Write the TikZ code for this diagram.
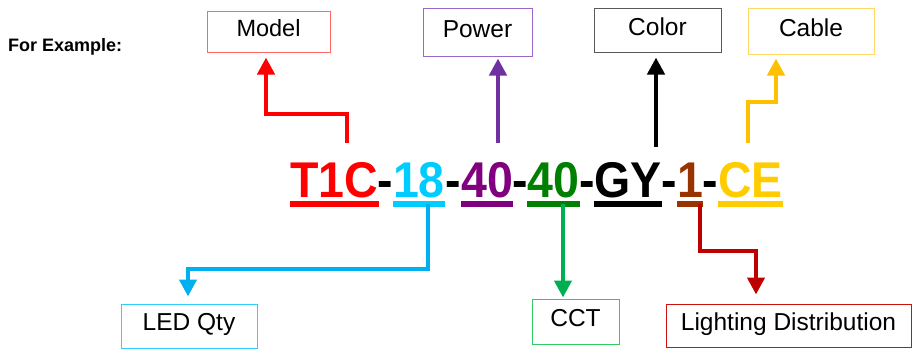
\documentclass[tikz,border=0pt]{standalone}
\usepackage{fontspec}
\setmainfont{Liberation Sans}
\usetikzlibrary{arrows.meta}
\definecolor{tRed}{HTML}{FF0000}
\definecolor{tCyan}{HTML}{00CCFF}
\definecolor{tPurple}{HTML}{800080}
\definecolor{tGreen}{HTML}{008000}
\definecolor{tBrown}{HTML}{993300}
\definecolor{tGold}{HTML}{FFCC00}
\definecolor{aRed}{HTML}{FF0000}
\definecolor{aPurple}{HTML}{7030A0}
\definecolor{aGold}{HTML}{FFC000}
\definecolor{aCyan}{HTML}{00B0F0}
\definecolor{aGreen}{HTML}{00B050}
\definecolor{aDark}{HTML}{C00000}
\definecolor{bModel}{HTML}{FF6666}
\definecolor{bPower}{HTML}{9966CC}
\definecolor{bColor}{HTML}{595959}
\definecolor{bCable}{HTML}{FFD966}
\definecolor{bLed}{HTML}{33CCFF}
\definecolor{bCct}{HTML}{33CC66}
\definecolor{bLd}{HTML}{CC1111}
\newcommand{\tallx}[1]{\scalebox{1}[1.08]{#1}}
\begin{document}
\begin{tikzpicture}[x=1pt,y=1pt,
  seg/.style={inner sep=0pt, anchor=base, font=\fontsize{46.5}{50}\selectfont\bfseries},
  uline/.style={line width=6pt},
  lbox/.style={draw, line width=1pt, inner sep=0pt, text height=17.5pt, text depth=8pt,
    font=\fontsize{24.5}{28}\selectfont, text=black},
  conn/.style={line width=4.5pt, -{Triangle[width=17pt,length=17pt]}}]
\useasboundingbox (0,0) rectangle (912,349);

% heading
\node[inner sep=0pt, anchor=base west, font=\fontsize{18}{20}\selectfont\bfseries] (hd) at (8,298) {For Example:};

% code segments
\node[seg, text=tRed]    (s1) at (334.5,152) {\tallx{T1C}};
\node[seg]               (d1) at (385.5,152) {\tallx{-}};
\node[seg, text=tCyan]   (s2) at (419,152)   {\tallx{18}};
\node[seg]               (d2) at (453,152)   {\tallx{-}};
\node[seg, text=tPurple] (s3) at (487,152)   {\tallx{40}};
\node[seg]               (d3) at (520,152)   {\tallx{-}};
\node[seg, text=tGreen]  (s4) at (553.5,152) {\tallx{40}};
\node[seg]               (d4) at (587,152)   {\tallx{-}};
\node[seg]               (s5) at (628,152)   {\tallx{GY}};
\node[seg]               (d5) at (669.5,152) {\tallx{-}};
\node[seg, text=tBrown]  (s6) at (690,152)   {\tallx{1}};
\node[seg]               (d6) at (710.5,152) {\tallx{-}};
\node[seg, text=tGold]   (s7) at (750.5,152) {\tallx{CE}};

% underlines
\foreach \n/\c in {s1/tRed,s2/tCyan,s3/tPurple,s4/tGreen,s5/black,s6/tBrown,s7/tGold}
  \draw[uline, \c] ([yshift=-7pt]\n.base west) -- ([yshift=-7pt]\n.base east);

% label boxes
\node[lbox, draw=bModel, minimum width=123pt, minimum height=40pt,
      font=\fontsize{23.5}{28}\selectfont] (model) at (268.5,317) {Model};
\node[lbox, draw=bPower, minimum width=109pt, minimum height=47pt] (power) at (477.5,316.5) {Power};
\node[lbox, draw=bColor, minimum width=127pt, minimum height=43pt] (color) at (657.5,318.5) {Color};
\node[lbox, draw=bCable, minimum width=126pt, minimum height=45pt] (cable) at (811,317.5) {Cable};
\node[lbox, draw=bLed, minimum width=136pt, minimum height=44pt] (led) at (189,23) {LED Qty};
\node[lbox, draw=bCct, minimum width=87pt, minimum height=45pt] (cct) at (575.5,27.5) {CCT};
\node[lbox, draw=bLd, minimum width=245pt, minimum height=43pt] (ld) at (788.5,23.5) {Lighting Distribution};

% connectors
\coordinate (mS) at (347,206);
\coordinate (mB) at (266,235);
\draw[conn, aRed, shorten >=5pt] (mS) |- (mB) -- (mB |- model.south);

\coordinate (pS) at (498,206);
\draw[conn, aPurple, shorten >=2pt] (pS) -- (pS |- power.south);

\coordinate (cS) at (656,202);
\draw[conn, black, shorten >=5pt] (cS) -- (cS |- color.south);

\coordinate (kS) at (748,206);
\coordinate (kB) at (776,247);
\draw[conn, aGold, shorten >=4pt] (kS) |- (kB) -- (kB |- cable.south);

\coordinate (lS) at (428,145);
\coordinate (lB) at (188,80);
\draw[conn, aCyan, shorten >=7pt] (lS) |- (lB) -- (lB |- led.north);

\coordinate (gS) at (563,145);
\draw[conn, aGreen, shorten >=1pt] (gS) -- (gS |- cct.north);

\coordinate (rS) at (700,145);
\coordinate (rB) at (756,98);
\draw[conn, aDark, shorten >=9pt] (rS) |- (rB) -- (rB |- ld.north);
\end{tikzpicture}
\end{document}
